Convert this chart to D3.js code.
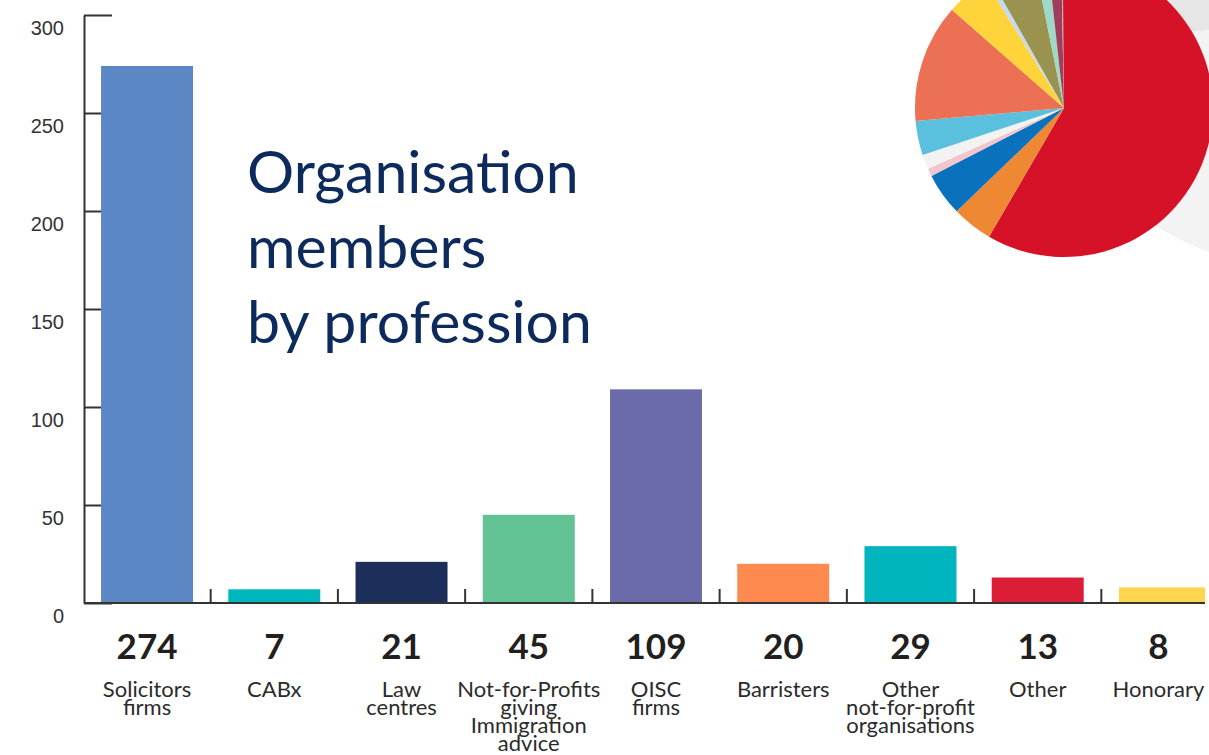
<!doctype html>
<html>
<head>
<meta charset="utf-8">
<script src="https://cdnjs.cloudflare.com/ajax/libs/d3/7.8.5/d3.min.js"></script>
<style>
  body { margin: 0; background: #fff; }
  svg { display: block; }
</style>
</head>
<body>
<svg width="1209" height="755"></svg>
<script>
// bar data
var categories = ["Solicitors firms", "CABx", "Law centres", "Not-for-Profits giving Immigration advice",
                  "OISC firms", "Barristers", "Other not-for-profit organisations", "Other", "Honorary"];
var labelLines = [["Solicitors", "firms"], ["CABx"], ["Law", "centres"], ["Not-for-Profits", "giving", "Immigration", "advice"],
                  ["OISC", "firms"], ["Barristers"], ["Other", "not-for-profit", "organisations"], ["Other"], ["Honorary"]];
var members = [274, 7, 21, 45, 109, 20, 29, 13, 8];
var barColors = ["#5b87c5", "#00b7bd", "#1c2f5a", "#63c394", "#6b6aaa", "#ff8a4f", "#00b5be", "#db1e36", "#ffd54f"];
var yTicks = [0, 50, 100, 150, 200, 250, 300];

var pieShares = [210.2, 15.9, 16.8, 3.0, 5.7, 13.4, 46.2, 17.0, 2.3, 18.0, 5.2, 5.2, 0.6, 0.5];
var pieColors = ["#d51227", "#ee8833", "#0a72bc", "#f2c4cc", "#f2f2f2", "#5bc0de", "#ec7053",
                 "#ffd43b", "#c6d9f1", "#9a9350", "#9ed9c8", "#a03c5c", "#b0b0b0", "#d51227"];

var titleLines = ["Organisation", "members", "by profession"];

var W = 1209;
var svg = d3.select("svg");

svg.append("clipPath").attr("id", "plot")
  .append("rect").attr("x", 0).attr("y", 0).attr("width", W - 4).attr("height", 755);

// background discs behind the pie
svg.append("circle").attr("cx", 1300).attr("cy", 0).attr("r", 268).style("fill", "#f3f3f3");
svg.append("circle").attr("cx", 1150).attr("cy", -500).attr("r", 533).style("fill", "#e6e6e6");

var arc = d3.arc().innerRadius(0).outerRadius(149);
var pie = d3.pie().sort(null).value(d => d);
svg.append("g")
  .attr("transform", "translate(1064,108)")
  .selectAll("path")
  .data(pie(pieShares))
  .enter()
  .append("path")
  .attr("d", arc)
  .style("fill", (d, i) => pieColors[i]);

var y = d3.scaleLinear().domain([0, 300]).range([603, 15]);
var x = d3.scaleBand().domain(categories).range([84, 1228]).paddingInner(0.277).paddingOuter(0.134);

// y axis, ticks pointing inwards
var yAxis = d3.axisLeft(y).tickValues(yTicks).tickSize(-28).tickSizeOuter(0).tickPadding(20);
var yg = svg.append("g").attr("transform", "translate(84,0)").call(yAxis);
yg.select(".domain").style("stroke", "#333").style("stroke-width", 2);
yg.selectAll(".tick line").style("stroke", "#333").style("stroke-width", 2);
yg.selectAll(".tick text")
  .attr("dy", "0.95em")
  .style("font-family", "'Liberation Sans', Arial, sans-serif")
  .style("font-size", "20px")
  .style("fill", "#333");

// bars (drawn over the inner ticks)
svg.append("g")
  .attr("clip-path", "url(#plot)")
  .selectAll("rect")
  .data(members)
  .enter()
  .append("rect")
  .attr("x", (d, i) => x(categories[i]))
  .attr("y", d => y(d))
  .attr("width", x.bandwidth())
  .attr("height", d => y(0) - y(d))
  .style("fill", (d, i) => barColors[i]);

// baseline and separator ticks
svg.append("line")
  .attr("x1", 84).attr("x2", W - 4)
  .attr("y1", y(0)).attr("y2", y(0))
  .style("stroke", "#333").style("stroke-width", 2);
var gap = x.step() * x.paddingInner() / 2;
svg.append("g")
  .selectAll("line")
  .data(categories.slice(1))
  .enter()
  .append("line")
  .attr("x1", d => x(d) - gap).attr("x2", d => x(d) - gap)
  .attr("y1", y(0)).attr("y2", y(0) - 14)
  .style("stroke", "#333").style("stroke-width", 2);

// one column of text per bar
var cols = svg.append("g")
  .selectAll("g")
  .data(categories)
  .enter()
  .append("g")
  .attr("transform", d => "translate(" + (x(d) + x.bandwidth() / 2) + ",0)");

cols.append("text")
  .attr("y", 659)
  .attr("text-anchor", "middle")
  .style("font-family", "Lato, sans-serif")
  .style("font-weight", "bold")
  .style("font-size", "35px")
  .style("fill", "#231f20")
  .text((d, i) => members[i]);

cols.append("text")
  .attr("y", 697)
  .attr("text-anchor", "middle")
  .style("font-family", "Lato, sans-serif")
  .style("font-size", "22px")
  .style("fill", "#2b2b2b")
  .selectAll("tspan")
  .data((d, i) => labelLines[i])
  .enter()
  .append("tspan")
  .attr("x", 0)
  .attr("dy", (d, j) => j ? 18 : 0)
  .text(d => d);

// keep the last column inside the picture
cols.each(function(d) {
  var b = this.getBBox();
  var cx = x(d) + x.bandwidth() / 2;
  var over = cx + b.x + b.width - (W - 4);
  if (over > 0) d3.select(this).attr("transform", "translate(" + (cx - over) + ",0)");
});

// title
svg.append("text")
  .attr("x", 247)
  .attr("y", 193)
  .style("font-family", "Lato, sans-serif")
  .style("font-size", "59px")
  .style("fill", "#0d2a5c")
  .selectAll("tspan")
  .data(titleLines)
  .enter()
  .append("tspan")
  .attr("x", 247)
  .attr("dy", (d, i) => i ? 75 : 0)
  .text(d => d);
</script>
</body>
</html>
